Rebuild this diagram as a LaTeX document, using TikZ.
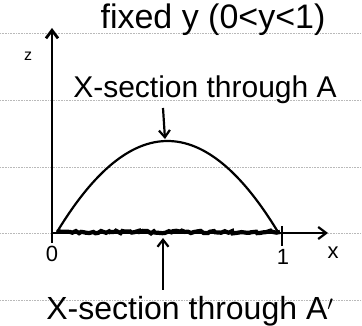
\documentclass[tikz,border=0pt]{standalone}
\usepackage{fontspec}
\setmainfont{Liberation Sans}
\usetikzlibrary{arrows.meta,decorations.pathmorphing}
\begin{document}
\begin{tikzpicture}[x=1pt,y=-1pt,
  rule/.style={gray!55,line width=0.8pt,dash pattern=on 1pt off 0.6pt},
  axis/.style={line width=2.8pt,-{Straight Barb[length=8pt,width=12pt]}},
  pointer/.style={line width=2.2pt,-{Straight Barb[length=7pt,width=11pt]}},
  lbl/.style={inner sep=0pt,font=\fontsize{30}{32}\selectfont},
  small/.style={inner sep=0pt,font=\fontsize{22}{24}\selectfont}]
\useasboundingbox (0,0) rectangle (362,326);
\foreach \yy in {33,100,167,233,300} \draw[rule] (0,\yy) -- (362,\yy);
\coordinate (O) at (52,233);
\coordinate (ztop) at (52,28);
\coordinate (xend) at (328,233);
\coordinate (one) at (282,233);
\coordinate (peak) at (165,139);
\draw[line width=2.8pt] (52,243) -- (O);
\draw[axis] (O) -- (ztop);
\draw[axis,line width=2.2pt] (O) -- (xend);
\draw[line width=2.8pt] (282,226) -- (282,246);
\draw[line width=4.2pt,decorate,decoration={random steps,segment length=3pt,amplitude=1.4pt}] (57,232) -- (280,232);
\draw[line width=2.2pt,domain=57:278,samples=60,smooth] plot (\x,{141+91*((\x-167.5)/110.5)^2});
\node[small,font=\fontsize{16}{18}\selectfont] (z) at (28,56) {z};
\node[small] (zero) at (52,254) {0};
\node[small] (onel) at (283,257) {1};
\node[small] (xl) at (333,253) {x};
\node[lbl,font=\fontsize{34}{36}\selectfont] (fixed) at (213,20) {fixed y (0<y<1)};
\node[lbl] (A) at (205,90) {X-section through A};
\node[lbl,font=\fontsize{32}{34}\selectfont] (Ap) at (190,311) {X-section through A$'$};
\coordinate (a1) at (163,108);
\coordinate (a2) at (163,290);
\coordinate (a2e) at (163,238);
\draw[pointer] (a1) -- (peak);
\draw[pointer] (a2) -- (a2e);
\end{tikzpicture}
\end{document}
